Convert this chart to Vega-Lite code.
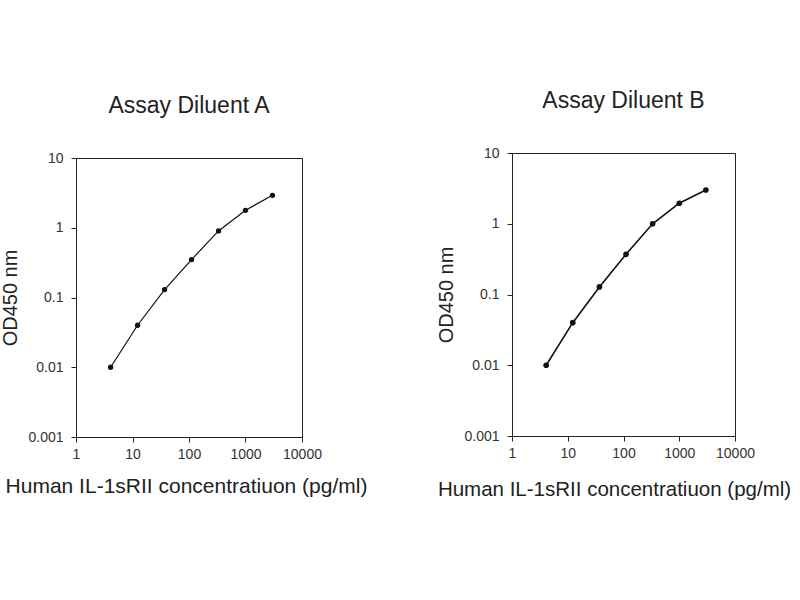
{
  "$schema": "https://vega.github.io/schema/vega-lite/v6.json",
  "background": "white",
  "padding": {"left": 0, "top": 89, "right": 0, "bottom": 0},
  "bounds": "flush",
  "spacing": 436,
  "config": {
    "font": "Liberation Sans",
    "view": {"stroke": "#222", "strokeWidth": 1},
    "axis": {
      "grid": false,
      "domainColor": "#222",
      "tickColor": "#222",
      "tickSize": 5,
      "labelColor": "#333",
      "labelFontSize": 14,
      "labelFlush": false,
      "titleColor": "#222",
      "titleFontWeight": "normal"
    },
    "title": {"fontWeight": "normal", "color": "#222", "fontSize": 23, "offset": 33}
  },
  "datasets": {
    "a": [
      {"conc": 4.1, "od": 0.01},
      {"conc": 12.3, "od": 0.04},
      {"conc": 37, "od": 0.13},
      {"conc": 111, "od": 0.35},
      {"conc": 333, "od": 0.9},
      {"conc": 1000, "od": 1.78},
      {"conc": 3000, "od": 2.92}
    ],
    "b": [
      {"conc": 4.1, "od": 0.01},
      {"conc": 12.3, "od": 0.04},
      {"conc": 37, "od": 0.128},
      {"conc": 111, "od": 0.37},
      {"conc": 333, "od": 1.0},
      {"conc": 1000, "od": 1.95},
      {"conc": 3000, "od": 3.0}
    ],
    "spacer": [{"k": 1}]
  },
  "hconcat": [
    {
      "bounds": "flush",
      "spacing": 4,
      "vconcat": [
        {
          "width": 226,
          "height": 1,
          "data": {"name": "spacer"},
          "mark": {"type": "point", "opacity": 0},
          "encoding": {},
          "view": {"stroke": null}
        },
        {
          "title": {"text": "Assay Diluent A"},
          "width": 226,
          "height": 279,
          "data": {"name": "a"},
          "encoding": {
            "x": {
              "field": "conc", "type": "quantitative",
              "scale": {"type": "log", "domain": [1, 10000]},
              "axis": {"values": [1, 10, 100, 1000, 10000], "format": "~g", "labelPadding": 5,
                       "title": "Human IL-1sRII concentratiuon (pg/ml)", "titleFontSize": 21, "titlePadding": 14,
                       "titleX": 110, "titleAlign": "center"}
            },
            "y": {
              "field": "od", "type": "quantitative",
              "scale": {"type": "log", "domain": [0.001, 10]},
              "axis": {"values": [0.001, 0.01, 0.1, 1, 10], "format": "~g", "labelPadding": 8,
                       "title": "OD450 nm", "titleFontSize": 20, "titlePadding": 7}
            }
          },
          "layer": [
            {"mark": {"type": "line", "color": "#111", "strokeWidth": 1.2}},
            {"mark": {"type": "point", "filled": true, "color": "#111", "size": 28, "opacity": 1}}
          ]
        }
      ]
    },
    {
      "title": {"text": "Assay Diluent B"},
      "width": 223,
      "height": 283,
      "data": {"name": "b"},
      "encoding": {
        "x": {
          "field": "conc", "type": "quantitative",
          "scale": {"type": "log", "domain": [1, 10000]},
          "axis": {"values": [1, 10, 100, 1000, 10000], "format": "~g", "labelPadding": 5,
                   "title": "Human IL-1sRII concentratiuon (pg/ml)", "titleFontSize": 20.5, "titlePadding": 19,
                   "titleX": 102, "titleAlign": "center"}
        },
        "y": {
          "field": "od", "type": "quantitative",
          "scale": {"type": "log", "domain": [0.001, 10]},
          "axis": {"values": [0.001, 0.01, 0.1, 1, 10], "format": "~g", "labelPadding": 8,
                   "title": "OD450 nm", "titleFontSize": 20, "titlePadding": 7}
        }
      },
      "layer": [
        {"mark": {"type": "line", "color": "#111", "strokeWidth": 1.6}},
        {"mark": {"type": "point", "filled": true, "color": "#111", "size": 32, "opacity": 1}}
      ]
    }
  ]
}
